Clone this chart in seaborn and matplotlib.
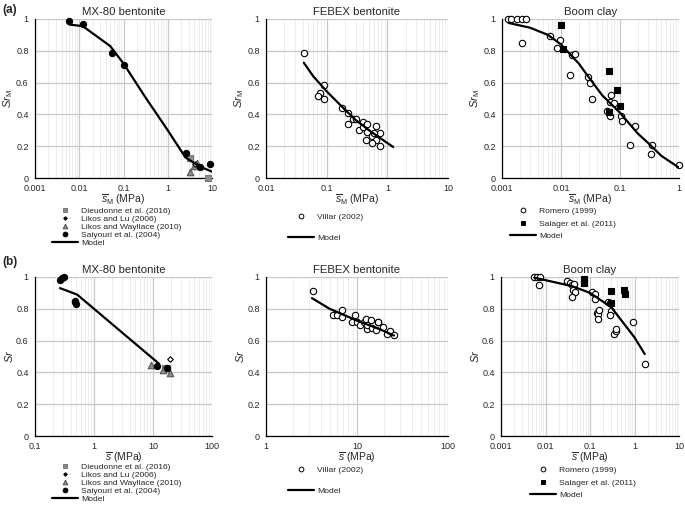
import matplotlib
matplotlib.use("Agg")
import matplotlib.pyplot as plt
import seaborn as sns
import pandas as pd
import numpy as np
from matplotlib.lines import Line2D
from matplotlib.ticker import LogLocator, FuncFormatter, NullFormatter, MultipleLocator

# ---------------- data: row (a) ----------------
mxa_dieu_x = [3.2, 8.2]
mxa_dieu_y = [0.125, 0.0]
mxa_lu_x = [4.2]
mxa_lu_y = [0.085]
mxa_way_x = [3.2, 4.6, 4.0]
mxa_way_y = [0.035, 0.095, 0.075]
mxa_sai_x = [0.006, 0.012, 0.055, 0.1, 2.6, 5.4, 8.8]
mxa_sai_y = [0.99, 0.97, 0.785, 0.71, 0.16, 0.07, 0.086]
mxa_mod_x = [0.006, 0.012, 0.05, 0.1, 0.3, 1, 2.5, 5, 10]
mxa_mod_y = [0.965, 0.955, 0.83, 0.72, 0.515, 0.3, 0.13, 0.075, 0.04]

fea_vil_x = [0.042, 0.091, 0.077, 0.073, 0.091, 0.177, 0.228, 0.228, 0.268, 0.303, 0.342,
             0.397, 0.397, 0.46, 0.46, 0.65, 0.44, 0.55, 0.65, 0.55, 0.75, 0.75, 0.6]
fea_vil_y = [0.787, 0.583, 0.535, 0.514, 0.50, 0.442, 0.408, 0.341, 0.373, 0.373, 0.30,
             0.35, 0.32, 0.288, 0.341, 0.324, 0.24, 0.267, 0.236, 0.22, 0.285, 0.204, 0.28]
fea_mod_x = [0.042, 0.06, 0.1, 0.2, 0.3, 0.5, 1, 1.25]
fea_mod_y = [0.725, 0.64, 0.545, 0.43, 0.365, 0.30, 0.22, 0.195]

bca_rom_x = [0.00126, 0.0014, 0.0018, 0.0022, 0.0026, 0.0022, 0.0064, 0.0085, 0.0097, 0.0154,
             0.017, 0.014, 0.0286, 0.031, 0.034, 0.060, 0.068, 0.068, 0.07, 0.078, 0.104, 0.11,
             0.15, 0.18, 0.33, 0.35, 1.0]
bca_rom_y = [1.0, 1.0, 1.0, 1.0, 1.0, 0.85, 0.895, 0.82, 0.87, 0.775,
             0.78, 0.645, 0.637, 0.60, 0.50, 0.42, 0.39, 0.475, 0.525, 0.47, 0.39, 0.36,
             0.21, 0.33, 0.15, 0.21, 0.08]
bca_sal_x = [0.0101, 0.011, 0.066, 0.088, 0.1, 0.066]
bca_sal_y = [0.965, 0.81, 0.675, 0.555, 0.455, 0.415]
bca_mod_x = [0.0013, 0.003, 0.006, 0.01, 0.02, 0.03, 0.05, 0.1, 0.2, 0.3, 0.5, 1]
bca_mod_y = [0.975, 0.945, 0.9, 0.84, 0.72, 0.63, 0.52, 0.41, 0.28, 0.22, 0.14, 0.065]

# ---------------- data: row (b) ----------------
mxb_dieu_x = [15.9, 17.0]
mxb_dieu_y = [0.43, 0.425]
mxb_lu_x = [19.3]
mxb_lu_y = [0.486]
mxb_way_x = [9.1, 14.9, 19.3]
mxb_way_y = [0.445, 0.417, 0.396]
mxb_sai_x = [0.265, 0.29, 0.31, 0.476, 0.49, 0.48, 11.5, 17.5]
mxb_sai_y = [0.98, 0.996, 1.0, 0.849, 0.828, 0.84, 0.44, 0.43]
mxb_mod_x = [0.265, 0.52, 12.6]
mxb_mod_y = [0.93, 0.889, 0.455]

feb_vil_x = [3.28, 5.43, 6.0, 6.8, 6.8, 9.6, 8.9, 10, 10.9, 12.0, 12.5, 12.9, 12.9, 14.2,
             14.8, 16.8, 17.2, 16.1, 19.1, 21.3, 23.2, 25.5]
feb_vil_y = [0.912, 0.762, 0.762, 0.79, 0.747, 0.762, 0.72, 0.72, 0.695, 0.716, 0.737, 0.674,
             0.695, 0.73, 0.68, 0.716, 0.72, 0.667, 0.688, 0.642, 0.659, 0.636]
feb_mod_x = [3.2, 5, 10, 18, 25.5]
feb_mod_y = [0.867, 0.80, 0.726, 0.67, 0.632]

bcb_rom_x = [0.0056, 0.0064, 0.0076, 0.007, 0.031, 0.036, 0.04, 0.044, 0.042, 0.046, 0.04,
             0.109, 0.129, 0.129, 0.14, 0.153, 0.157, 0.153, 0.257, 0.28, 0.30, 0.28, 0.35,
             0.39, 0.39, 0.93, 1.7]
bcb_rom_y = [1.0, 1.0, 1.0, 0.948, 0.975, 0.964, 0.95, 0.954, 0.916, 0.908, 0.874,
             0.908, 0.895, 0.86, 0.776, 0.765, 0.79, 0.738, 0.845, 0.834, 0.786, 0.759, 0.644,
             0.66, 0.67, 0.717, 0.45]
bcb_sal_x = [0.075, 0.075, 0.30, 0.30, 0.58, 0.60]
bcb_sal_y = [0.985, 0.96, 0.91, 0.834, 0.918, 0.89]
bcb_mod_x = [0.0056, 0.01, 0.039, 0.1, 0.3, 1, 1.7]
bcb_mod_y = [0.996, 0.98, 0.943, 0.90, 0.81, 0.62, 0.515]

# ---------------- style ----------------
sns.set_style("white")
plt.rcParams['font.family'] = ['Liberation Sans', 'DejaVu Sans']
plt.rcParams['mathtext.fontset'] = 'custom'
plt.rcParams['mathtext.rm'] = 'Liberation Sans'
plt.rcParams['mathtext.it'] = 'Liberation Sans:italic'

W, H = 685, 508
fig = plt.figure(figsize=(W / 100, H / 100), dpi=100)


def px_axes(x0, y0, x1, y1):
    return fig.add_axes([x0 / W, 1 - y1 / H, (x1 - x0) / W, (y1 - y0) / H])


GRAY = '#8c8c8c'
styles = {
    'dieu': dict(marker='s', color=GRAY, edgecolor='#7a7a7a', s=20),
    'lu': dict(marker='D', color='white', edgecolor='black', s=8),
    'way': dict(marker='^', color=GRAY, edgecolor='#555555', s=22),
    'sai': dict(marker='o', color='black', edgecolor='black', s=20),
    'open': dict(marker='o', color='white', edgecolor='black', s=21),
    'sal': dict(marker='s', color='black', edgecolor='black', s=20),
}


def scatter(ax, xs, ys, key):
    df = pd.DataFrame({'x': xs, 'y': ys})
    st = styles[key]
    sns.scatterplot(data=df, x='x', y='y', ax=ax, marker=st['marker'], color=st['color'],
                    edgecolor=st['edgecolor'], s=st['s'], linewidth=0.8, zorder=3,
                    clip_on=False)


def model(ax, xs, ys):
    df = pd.DataFrame({'x': xs, 'y': ys})
    sns.lineplot(data=df, x='x', y='y', ax=ax, color='black', lw=1.6, sort=False,
                 estimator=None, zorder=4)


def style_axes(ax, xlim, title, ylabel, xlabel):
    ax.set_xscale('log')
    ax.set_xlim(*xlim)
    ax.set_ylim(0, 1)
    ax.yaxis.set_major_locator(MultipleLocator(0.2))
    ax.xaxis.set_major_locator(LogLocator(base=10, numticks=10))
    ax.xaxis.set_minor_locator(LogLocator(base=10, subs=np.arange(2, 10), numticks=20))
    ax.xaxis.set_minor_formatter(NullFormatter())
    ax.xaxis.set_major_formatter(FuncFormatter(lambda v, p: '%g' % v))
    ax.yaxis.set_major_formatter(FuncFormatter(lambda v, p: '%g' % v))
    ax.grid(which='major', color='#c8c8c8', lw=0.9)
    ax.grid(which='minor', axis='x', color='#e6e6e6', lw=0.5)
    ax.set_axisbelow(True)
    for side in ['top', 'right']:
        ax.spines[side].set_visible(False)
    for side in ['left', 'bottom']:
        ax.spines[side].set_color('black')
        ax.spines[side].set_linewidth(0.9)
    ax.tick_params(which='major', direction='out', length=3, width=0.8, labelsize=6.5,
                   pad=1.5, color='black')
    ax.tick_params(which='minor', length=0)
    ax.set_title(title, fontsize=8.2, pad=3)
    ax.set_ylabel(ylabel, fontsize=8, labelpad=1)
    ax.set_xlabel(xlabel, fontsize=7.5, labelpad=-0.5)


def add_legend(ax, entries, x, y, spacing):
    handles = []
    labels = []
    for key, lab in entries:
        if key == 'model':
            handles.append(Line2D([], [], color='black', lw=1.6))
        else:
            st = styles[key]
            ms = {'lu': 1.8, 'dieu': 3.0, 'way': 3.4, 'sai': 3.4, 'open': 3.4, 'sal': 3.4}[key]
            handles.append(Line2D([], [], ls='none', marker=st['marker'], markersize=ms,
                                  markerfacecolor=st['color'] if key != 'lu' else 'black',
                                  markeredgecolor=st['edgecolor'] if key != 'lu' else 'black',
                                  markeredgewidth=0.7))
        labels.append(lab)
    fig.legend(handles, labels, loc='upper left', bbox_to_anchor=(x / W, 1 - y / H),
               frameon=False, fontsize=6.1, borderpad=0, borderaxespad=0,
               handlelength=3.1, handletextpad=0.3, labelspacing=spacing)


mx_entries = [('dieu', 'Dieudonne et al. (2016)'), ('lu', 'Likos and Lu (2006)'),
              ('way', 'Likos and Wayllace (2010)'), ('sai', 'Saiyouri et al. (2004)'),
              ('model', 'Model')]
fe_entries = [('open', 'Villar (2002)'), ('model', 'Model')]
bc_entries = [('open', 'Romero (1999)'), ('sal', 'Salager et al. (2011)'), ('model', 'Model')]

xl_a = r'$\overline{s}_{\mathrm{M}}$ (MPa)'
xl_b = r'$\overline{s}$ (MPa)'
yl_a = r'$Sr_{\mathrm{M}}$'
yl_b = r'$Sr$'

# ---------------- row (a) ----------------
ax = px_axes(35, 19, 212, 178)
model(ax, mxa_mod_x, mxa_mod_y)
scatter(ax, mxa_dieu_x, mxa_dieu_y, 'dieu')
scatter(ax, mxa_way_x, mxa_way_y, 'way')
scatter(ax, mxa_lu_x, mxa_lu_y, 'lu')
scatter(ax, mxa_sai_x, mxa_sai_y, 'sai')
style_axes(ax, (0.001, 10), 'MX-80 bentonite', yl_a, xl_a)
add_legend(ax, mx_entries, 52, 207, 0.02)

ax = px_axes(266, 19, 448, 178)
model(ax, fea_mod_x, fea_mod_y)
scatter(ax, fea_vil_x, fea_vil_y, 'open')
style_axes(ax, (0.01, 10), 'FEBEX bentonite', yl_a, xl_a)
add_legend(ax, fe_entries, 288, 213, 1.5)

ax = px_axes(502, 19, 679, 178)
model(ax, bca_mod_x, bca_mod_y)
scatter(ax, bca_rom_x, bca_rom_y, 'open')
scatter(ax, bca_sal_x, bca_sal_y, 'sal')
style_axes(ax, (0.001, 1), 'Boom clay', yl_a, xl_a)
add_legend(ax, bc_entries, 510, 207, 0.55)

# ---------------- row (b) ----------------
ax = px_axes(35, 277, 212, 436)
model(ax, mxb_mod_x, mxb_mod_y)
scatter(ax, mxb_dieu_x, mxb_dieu_y, 'dieu')
scatter(ax, mxb_way_x, mxb_way_y, 'way')
scatter(ax, mxb_lu_x, mxb_lu_y, 'lu')
scatter(ax, mxb_sai_x, mxb_sai_y, 'sai')
style_axes(ax, (0.1, 100), 'MX-80 bentonite', yl_b, xl_b)
add_legend(ax, mx_entries, 52, 463, 0.02)

ax = px_axes(266, 277, 448, 436)
model(ax, feb_mod_x, feb_mod_y)
scatter(ax, feb_vil_x, feb_vil_y, 'open')
style_axes(ax, (1, 100), 'FEBEX bentonite', yl_b, xl_b)
add_legend(ax, fe_entries, 288, 466, 1.5)

ax = px_axes(501, 277, 679, 436)
model(ax, bcb_mod_x, bcb_mod_y)
scatter(ax, bcb_rom_x, bcb_rom_y, 'open')
scatter(ax, bcb_sal_x, bcb_sal_y, 'sal')
style_axes(ax, (0.001, 10), 'Boom clay', yl_b, xl_b)
add_legend(ax, bc_entries, 530, 466, 0.55)

fig.text(2 / W, 1 - 10 / H, '(a)', fontsize=8.5, fontweight='bold', va='center', ha='left')
fig.text(2 / W, 1 - 262 / H, '(b)', fontsize=8.5, fontweight='bold', va='center', ha='left')

fig.savefig('out.png', dpi=100)
